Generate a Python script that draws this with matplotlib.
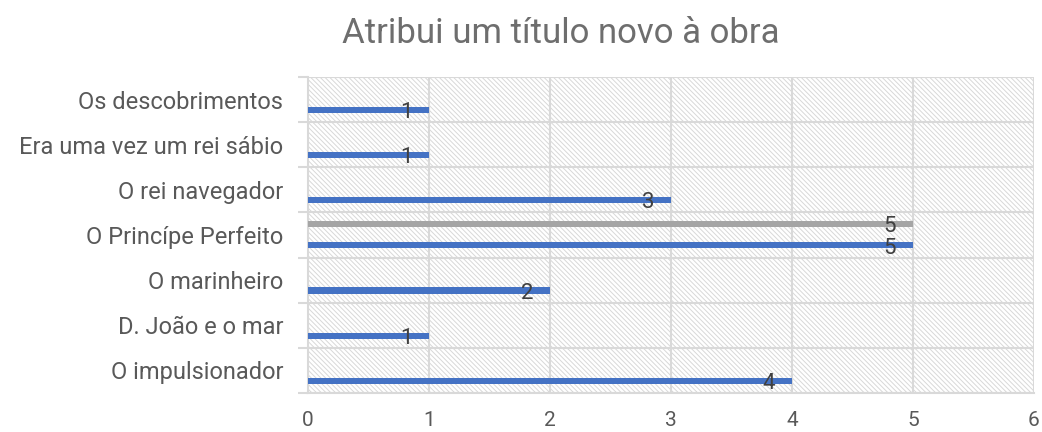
import matplotlib
matplotlib.use("Agg")
import matplotlib.pyplot as plt
from matplotlib.patches import Rectangle
import numpy as np

# categories listed bottom to top
categorias = ["O impulsionador", "D. João e o mar", "O marinheiro",
              "O Princípe Perfeito", "O rei navegador",
              "Era uma vez um rei sábio", "Os descobrimentos"]
serie1 = [4, 1, 2, 5, 3, 1, 1]
serie2 = [None, None, None, 5, None, None, None]

azul = "#4472C4"
cinza = "#A5A5A5"
grelha = "#D9D9D9"

plt.rcParams["font.family"] = ["Roboto", "DejaVu Sans"]
plt.rcParams["hatch.linewidth"] = 0.7
plt.rcParams["hatch.color"] = "#D8D8D8"

fig = plt.figure(figsize=(10.42, 4.32), dpi=100)
ax = fig.add_axes([0.2956, 0.0903, 0.6967, 0.7315])

ax.set_xlim(0, 6)
ax.set_ylim(-0.5, len(categorias) - 0.5)

# hatched plot area
ax.add_patch(Rectangle((0, -0.5), 6, len(categorias), facecolor="white",
                       edgecolor="#D8D8D8", hatch="\\" * 7, lw=0, zorder=0))

y = np.arange(len(categorias))
h = 0.135
ax.barh(y - 0.23, serie1, height=h, color=azul, zorder=3)
v2 = [v if v is not None else 0 for v in serie2]
ax.barh(y + 0.25, v2, height=h, color=cinza, zorder=3)

for yi, v in zip(y, serie1):
    ax.text(v - 0.19, yi - 0.29, str(v), ha="center", va="center",
            fontsize=16, color="#404040", zorder=4)
for yi, v in zip(y, serie2):
    if v is not None:
        ax.text(v - 0.19, yi + 0.19, str(v), ha="center", va="center",
                fontsize=16, color="#404040", zorder=4)

# gridlines at category boundaries and integer x
for b in np.arange(-0.5, len(categorias), 1.0):
    ax.axhline(b, color=grelha, lw=1.5, zorder=1)
for xv in range(1, 7):
    ax.axvline(xv, color=grelha, lw=1.5, zorder=1)

ax.set_xticks(range(0, 7))
ax.tick_params(axis="x", length=0, pad=13, labelsize=15, labelcolor="#595959")
ax.set_yticks(np.arange(-0.5, len(categorias), 1.0))
ax.set_yticklabels([])
ax.tick_params(axis="y", which="major", length=7, width=1.5, color=grelha)
ax.set_yticks(y, minor=True)
ax.set_yticklabels(categorias, minor=True)
ax.tick_params(axis="y", which="minor", length=0, pad=18, labelsize=17,
               labelcolor="#595959")

for s in ["top", "right"]:
    ax.spines[s].set_visible(False)
ax.spines["left"].set_color(grelha)
ax.spines["left"].set_linewidth(1.5)
ax.spines["bottom"].set_color(grelha)
ax.spines["bottom"].set_linewidth(1.5)

fig.text(0.538, 0.922, "Atribui um título novo à obra", ha="center", va="center",
         fontsize=25, color="#6E6E6E")

fig.savefig("out.png", dpi=100)
